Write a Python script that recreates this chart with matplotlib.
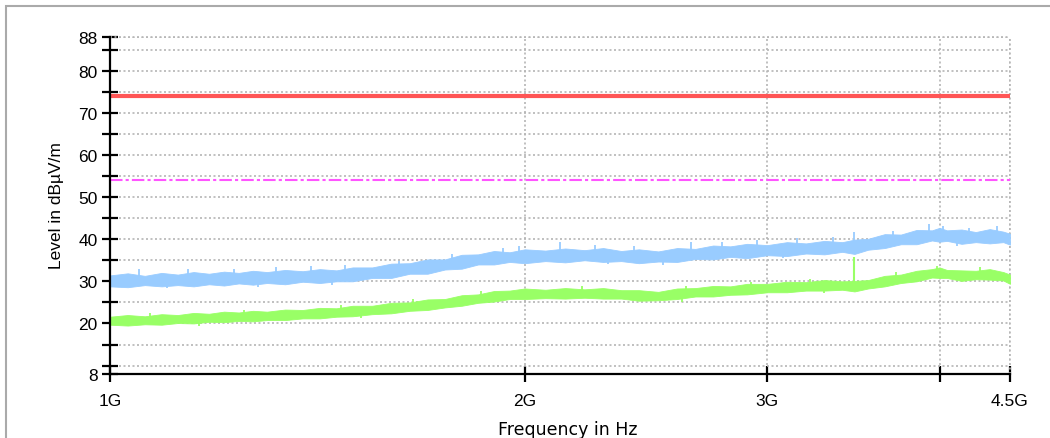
import numpy as np
import matplotlib
matplotlib.use('Agg')
import matplotlib.pyplot as plt
from matplotlib.patches import Rectangle

# frequency grid (GHz) and trace envelopes (dBuV/m)
freq = [1.00, 1.03, 1.06, 1.09, 1.12, 1.15, 1.18, 1.21, 1.24, 1.27,
        1.30, 1.34, 1.38, 1.42, 1.46, 1.50, 1.55, 1.60, 1.65, 1.70,
        1.75, 1.80, 1.85, 1.90, 1.95, 2.00, 2.07, 2.14, 2.21, 2.28,
        2.35, 2.42, 2.50, 2.58, 2.66, 2.74, 2.82, 2.90, 3.00, 3.10,
        3.20, 3.30, 3.40, 3.47, 3.55, 3.65, 3.75, 3.85, 3.95, 4.00,
        4.05, 4.15, 4.25, 4.35, 4.45, 4.50]

peak_lo = [28.8, 28.6, 29.1, 28.8, 29.1, 28.8, 29.3, 29.0, 29.5, 29.2,
           29.6, 29.3, 29.9, 29.6, 30.0, 30.0, 30.8, 30.8, 31.8, 31.8,
           32.8, 33.0, 34.0, 34.0, 34.6, 34.3, 34.8, 34.5, 35.0, 34.6,
           34.8, 34.3, 34.7, 34.6, 35.3, 35.2, 35.8, 35.5, 36.2, 36.0,
           36.6, 36.4, 37.0, 36.5, 37.5, 37.9, 38.8, 38.8, 39.7, 39.4,
           39.6, 38.9, 39.3, 39.0, 39.3, 38.7]
peak_hi = [31.4, 31.9, 31.3, 32.0, 31.6, 32.2, 31.8, 32.3, 32.0, 32.5,
           32.2, 32.7, 32.4, 32.9, 32.6, 33.3, 33.3, 34.2, 34.3, 35.2,
           35.2, 36.3, 36.4, 37.2, 36.9, 37.6, 37.3, 37.8, 37.4, 37.9,
           37.2, 37.6, 37.1, 37.9, 37.7, 38.5, 38.3, 38.9, 38.6, 39.3,
           39.0, 39.6, 39.3, 39.9, 40.1, 41.2, 41.1, 42.2, 42.1, 42.7,
           42.1, 42.3, 41.7, 42.4, 41.8, 41.3]

avg_lo = [19.7, 19.5, 19.8, 19.7, 20.1, 20.0, 20.4, 20.3, 20.6, 20.5,
          20.8, 20.8, 21.2, 21.2, 21.6, 21.7, 22.2, 22.4, 23.0, 23.2,
          23.8, 24.2, 24.9, 25.2, 25.8, 25.8, 26.0, 25.9, 26.1, 25.9,
          25.9, 25.4, 25.5, 25.8, 26.4, 26.4, 26.8, 26.9, 27.4, 27.4,
          27.8, 27.8, 28.0, 27.6, 28.3, 28.8, 29.6, 30.0, 30.9, 30.8,
          30.8, 30.1, 30.5, 30.4, 30.2, 29.4]
avg_hi = [21.6, 22.0, 21.7, 22.2, 22.0, 22.5, 22.3, 22.8, 22.6, 23.0,
          22.8, 23.3, 23.2, 23.7, 23.6, 24.2, 24.2, 24.9, 25.0, 25.7,
          25.8, 26.7, 26.9, 27.7, 27.8, 28.3, 28.0, 28.4, 28.1, 28.4,
          27.9, 27.9, 27.5, 28.3, 28.4, 28.9, 28.8, 29.4, 29.4, 29.9,
          29.8, 30.3, 30.0, 30.1, 30.3, 31.3, 31.6, 32.5, 32.9, 33.3,
          32.7, 32.6, 32.5, 32.9, 32.2, 31.6]

# noise spikes sticking out of the bands (frequency, tip level)
peak_up_f = [1.05, 1.14, 1.23, 1.32, 1.40, 1.48, 1.62, 1.77, 1.93, 1.98,
             2.12, 2.25, 2.40, 2.64, 2.78, 2.95, 3.15, 3.35, 3.47, 3.70,
             3.93, 4.02, 4.20, 4.40]
peak_up = [33.0, 32.9, 33.0, 33.3, 33.6, 33.8, 34.9, 36.4, 38.0, 38.3,
           39.4, 38.7, 38.3, 39.4, 39.4, 39.9, 40.2, 40.5, 41.6, 41.9,
           43.6, 43.2, 42.7, 43.2]
peak_down_f = [1.10, 1.28, 1.45, 2.30, 2.52, 3.08, 4.12]
peak_down = [28.3, 28.7, 29.2, 34.1, 33.9, 35.6, 38.5]

avg_up_f = [1.07, 1.25, 1.47, 1.66, 1.86, 2.20, 2.62, 2.92, 3.22, 3.72,
            3.98, 4.28]
avg_up = [22.5, 23.3, 24.4, 25.9, 27.7, 28.9, 28.9, 29.9, 30.6, 32.2,
          33.7, 33.3]
avg_down_f = [1.16, 1.52, 2.60, 3.30]
avg_down = [19.5, 21.2, 25.0, 27.3]

# single tall spike at ~3.47 GHz in the average trace
avg_spike_f = [3.47]
avg_spike_lo = [29.5]
avg_spike_hi = [35.8]

limit_peak = 74
limit_avg = 54

yticks_major = [8, 20, 30, 40, 50, 60, 70, 80, 88]
yticks_minor = [10, 15, 25, 35, 45, 55, 65, 75, 85]
xticks = [1.0, 2.0, 3.0, 4.0, 4.5]
xtick_labels = ['1G', '2G', '3G', '', '4.5G']

plt.rcParams['font.family'] = ['Liberation Sans', 'DejaVu Sans']

fig = plt.figure(figsize=(10.5, 4.39), dpi=100)
ax = fig.add_axes([110 / 1050, 1 - 375 / 439, 900 / 1050, 337 / 439])

blue = '#99ccff'
green = '#99ff66'
spike = 2.0  # drawn length of the noise spikes in dB

ax.fill_between(freq, peak_lo, peak_hi, color=blue, lw=0.6, zorder=3)
ax.vlines(peak_up_f, np.array(peak_up) - spike, peak_up, color=blue, lw=1.3, zorder=3)
ax.vlines(peak_down_f, peak_down, np.array(peak_down) + spike, color=blue, lw=1.3, zorder=3)
ax.fill_between(freq, avg_lo, avg_hi, color=green, lw=0.6, zorder=3)
ax.vlines(avg_up_f, np.array(avg_up) - spike, avg_up, color=green, lw=1.3, zorder=3)
ax.vlines(avg_down_f, avg_down, np.array(avg_down) + spike, color=green, lw=1.3, zorder=3)
ax.vlines(avg_spike_f, avg_spike_lo, avg_spike_hi, color=green, lw=1.5, zorder=3)

ax.axhline(limit_peak, color='#ff5555', lw=3, zorder=4)
ax.axhline(limit_avg, color='#ff55ff', lw=1.5, ls=(0, (6, 1.5, 1.5, 1.5)), zorder=4)

ax.set_xscale('log')
ax.set_xlim(1.0, 4.5)
ax.set_ylim(8, 88)
ax.set_xticks(xticks)
ax.set_xticklabels(xtick_labels)
ax.xaxis.set_minor_locator(matplotlib.ticker.NullLocator())
ax.set_yticks(yticks_major)
ax.set_yticks(yticks_minor, minor=True)

ax.tick_params(axis='both', which='both', direction='inout', length=12, width=1.6,
               labelsize=12.5, colors='black')
ax.tick_params(axis='x', pad=8)
ax.tick_params(axis='y', pad=3)
for lbl in ax.get_xticklabels() + ax.get_yticklabels():
    lbl.set_fontfamily('Liberation Sans')

ax.grid(True, which='both', color='#b5b5b5', ls=(0, (1.2, 1.5)), lw=1.2)
for s in ['top', 'right']:
    ax.spines[s].set_visible(False)
for s in ['left', 'bottom']:
    ax.spines[s].set_linewidth(1.6)
    ax.spines[s].set_zorder(5)
# dotted frame on top/right like the grid
ax.axhline(88, color='#b5b5b5', ls=(0, (1.2, 1.5)), lw=1.2, clip_on=False)
ax.axvline(4.5, color='#b5b5b5', ls=(0, (1.2, 1.5)), lw=1.2, clip_on=False)

fig.text(568 / 1050, 1 - 430 / 439, 'Frequency in Hz', ha='center', va='center',
         fontsize=12.5, fontfamily='DejaVu Sans')
fig.text(56 / 1050, 1 - 206 / 439, 'Level in dBµV/m', ha='center', va='center',
         rotation=90, fontsize=12.5, fontfamily='Liberation Sans')

# outer gray frame
fig.patches.append(Rectangle((6 / 1050, -0.1), 1.2, 1.1 - 7 / 439, transform=fig.transFigure,
                             fill=False, edgecolor='#aaaaaa', lw=1.5))

fig.savefig('out.png', dpi=100)
